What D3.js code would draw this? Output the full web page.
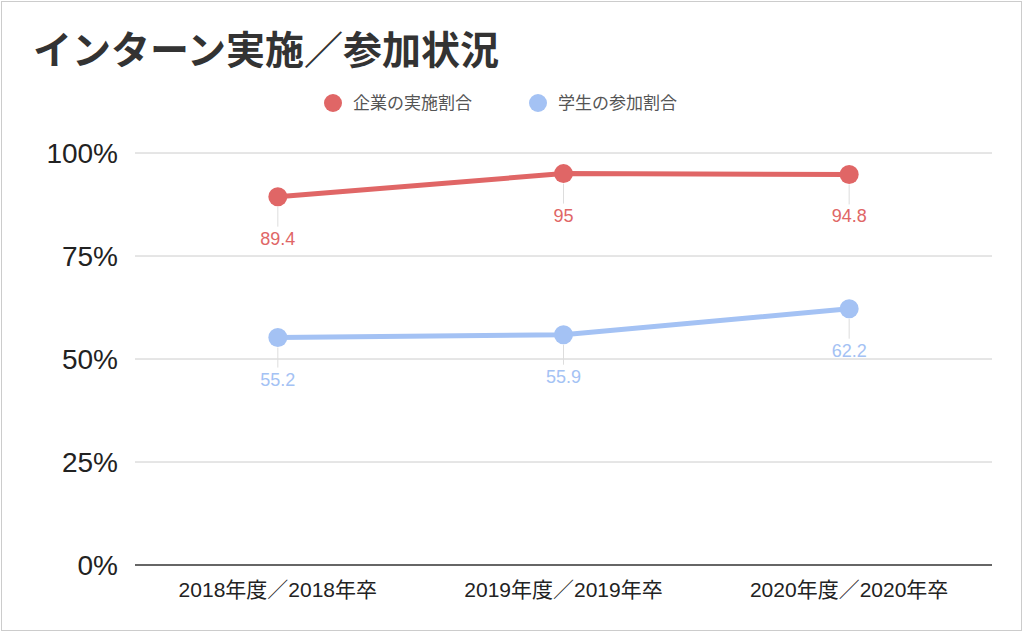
<!DOCTYPE html>
<html><head><meta charset="utf-8">
<script src="https://cdn.jsdelivr.net/npm/d3@7"></script>
<style>body{margin:0;background:#fff}svg{display:block}text{font-family:"Liberation Sans","Noto Sans CJK JP",sans-serif}</style>
</head><body><svg id="c" width="1024" height="633"></svg>
<script>
const categories=["2018年度／2018年卒","2019年度／2019年卒","2020年度／2020年卒"];
const companyValues=[89.4,95,94.8];
const studentValues=[55.2,55.9,62.2];
const seriesNames=["企業の実施割合","学生の参加割合"];
const colors=["#e06666","#a4c2f4"];
const yTicks=[0,25,50,75,100];
const svg=d3.select("#c");
svg.append("rect").attr("x",1.5).attr("y",1.5).attr("width",1020).attr("height",629).attr("fill","#fff").attr("stroke","#ccc");
svg.append("text").attr("x",33).attr("y",64).attr("font-size",39).attr("font-weight","bold").attr("fill","#333").attr("font-family","Noto Sans CJK JP").text("インターン実施／参加状況");
const x=d3.scalePoint().domain(categories).range([135,992]).padding(0.5);
const y=d3.scaleLinear().domain([0,100]).range([565,153]);
const g=svg.append("g");
yTicks.forEach(t=>{
 g.append("line").attr("x1",135).attr("x2",992).attr("y1",y(t)).attr("y2",y(t)).attr("stroke",t===0?"#333":"#ccc").attr("stroke-width",t===0?1.5:1);
 g.append("text").attr("x",118).attr("y",y(t)).attr("dy","0.36em").attr("text-anchor","end").attr("font-size",28).attr("fill","#222").text(t+"%");
});
categories.forEach(c=>g.append("text").attr("x",x(c)).attr("y",597).attr("text-anchor","middle").attr("font-size",21).attr("fill","#222").text(c));
const lx=[333,538];
seriesNames.forEach((n,i)=>{
 svg.append("circle").attr("cx",lx[i]).attr("cy",103).attr("r",9).attr("fill",colors[i]);
 svg.append("text").attr("x",lx[i]+20).attr("y",103).attr("dy","0.36em").attr("font-size",17).attr("fill","#555").attr("font-family","Noto Sans CJK JP").text(n);
});
[companyValues,studentValues].forEach((vals,i)=>{
 const pts=vals.map((v,j)=>[x(categories[j]),y(v)]);
 g.append("path").attr("d",d3.line()(pts)).attr("fill","none").attr("stroke",colors[i]).attr("stroke-width",5);
 pts.forEach((p,j)=>{
  g.append("line").attr("x1",p[0]).attr("x2",p[0]).attr("y1",p[1]+10).attr("y2",p[1]+30).attr("stroke","#ddd");
  g.append("circle").attr("cx",p[0]).attr("cy",p[1]).attr("r",9.5).attr("fill",colors[i]);
  g.append("text").attr("x",p[0]).attr("y",p[1]+48).attr("text-anchor","middle").attr("font-size",18).attr("fill",colors[i]).text(vals[j]);
 });
});
</script></body></html>
